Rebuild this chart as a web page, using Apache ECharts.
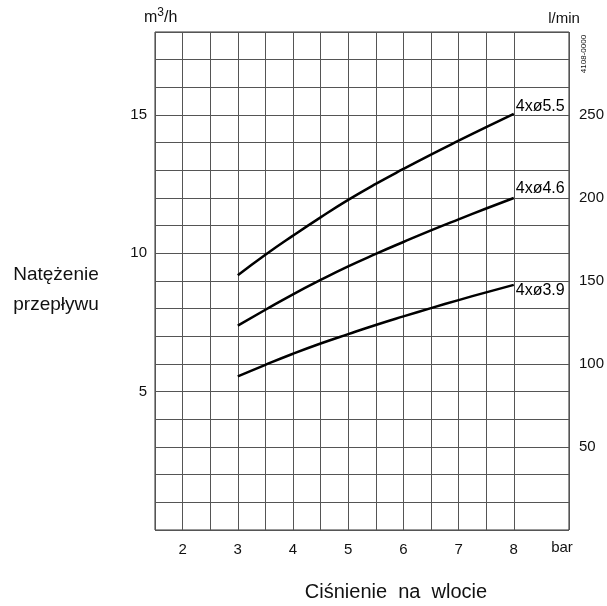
<!DOCTYPE html>
<html>
<head>
<meta charset="utf-8">
<script src="https://cdn.jsdelivr.net/npm/echarts@6/dist/echarts.min.js"></script>
<style>
  html, body { margin: 0; padding: 0; background: #fff; }
  #chart { width: 607px; height: 606px; }
</style>
</head>
<body>
<div id="chart"></div>
<script>
// pressure (bar) and flow (m3/h)
const pressure = [3, 3.5, 4, 4.5, 5, 5.5, 6, 6.5, 7, 7.5, 8];
const flow55 = [9.21, 9.95, 10.64, 11.30, 11.93, 12.51, 13.05, 13.57, 14.07, 14.56, 15.04];
const flow46 = [7.39, 7.96, 8.52, 9.04, 9.53, 9.98, 10.41, 10.83, 11.23, 11.62, 12.0];
const flow39 = [5.55, 5.97, 6.37, 6.74, 7.08, 7.41, 7.72, 8.02, 8.31, 8.59, 8.86];
const seriesNames = ['4xø5.5', '4xø4.6', '4xø3.9'];
const xTicks = [2, 3, 4, 5, 6, 7, 8];
const leftTicks = [5, 10, 15];
const rightTicks = [50, 100, 150, 200, 250];

const font = 'Liberation Sans, Arial, sans-serif';
const gridColor = '#555';

// split line colours, one per 0.5 bar tick; the line at 8.5 bar is absent
const vColors = [];
for (let v = 1.5; v <= 9; v += 0.5) vColors.push(v === 8.5 ? 'rgba(0,0,0,0)' : gridColor);

function pairs(ys) { return pressure.map((p, i) => [p, ys[i]]); }

function curve(name, ys, dy) {
  return {
    name: name,
    type: 'line',
    smooth: true,
    showSymbol: false,
    symbol: 'none',
    data: pairs(ys),
    lineStyle: { color: '#000', width: 2.5 },
    endLabel: {
      show: true,
      formatter: name,
      distance: 2,
      offset: [0, dy],
      color: '#000',
      fontSize: 16,
      fontFamily: font
    },
    z: 5
  };
}

let myChart = echarts.init(document.getElementById('chart'));
myChart.setOption({
  animation: false,
  backgroundColor: '#fff',
  grid: {
    left: 155, right: 35, top: 32, bottom: 76,
    show: true, borderColor: '#333', borderWidth: 1
  },
  xAxis: {
    type: 'value',
    min: 1.5, max: 9, interval: 0.5,
    axisLine: { show: false },
    axisTick: { show: false },
    axisLabel: {
      margin: 12,
      fontSize: 15, fontFamily: font, color: '#111',
      formatter: v => xTicks.includes(v) ? String(v) : ''
    },
    splitLine: { show: true, lineStyle: { color: vColors, width: 1 } }
  },
  yAxis: [
    {
      type: 'value',
      min: 0, max: 18, interval: 1,
      axisLine: { show: false },
      axisTick: { show: false },
      axisLabel: {
        margin: 8,
        fontSize: 15, fontFamily: font, color: '#111',
        formatter: v => leftTicks.includes(v) ? String(v) : ''
      },
      splitLine: { show: true, lineStyle: { color: gridColor, width: 1 } }
    },
    {
      type: 'value',
      min: 0, max: 300, interval: 50,
      position: 'right',
      axisLine: { show: false },
      axisTick: { show: false },
      axisLabel: {
        margin: 10,
        fontSize: 15, fontFamily: font, color: '#111',
        formatter: v => rightTicks.includes(v) ? String(v) : ''
      },
      splitLine: { show: false }
    }
  ],
  series: [
    curve(seriesNames[0], flow55, -7),
    curve(seriesNames[1], flow46, -9),
    curve(seriesNames[2], flow39, 6)
  ],
  graphic: [
    {
      type: 'text', x: 144, y: 28,
      style: {
        text: '{a|m}{b|3}{a|/h}',
        rich: {
          a: { fontSize: 16, fontFamily: font, fill: '#111' },
          b: { fontSize: 12, fontFamily: font, fill: '#111', padding: [0, 0, 9, 0] }
        },
        verticalAlign: 'bottom', textVerticalAlign: 'bottom'
      }
    },
    {
      type: 'text', x: 564, y: 19,
      style: {
        text: 'l/min', font: '15px ' + font, fill: '#111',
        align: 'center', verticalAlign: 'middle',
        textAlign: 'center', textVerticalAlign: 'middle'
      }
    },
    {
      type: 'text', x: 584, y: 54, rotation: Math.PI / 2,
      style: {
        text: '4108-0000', font: '8px ' + font, fill: '#111',
        align: 'center', verticalAlign: 'middle',
        textAlign: 'center', textVerticalAlign: 'middle'
      }
    },
    {
      type: 'text', x: 56, y: 290,
      style: {
        text: 'Natężenie\nprzepływu', font: '19px ' + font, fill: '#111',
        lineHeight: 30,
        align: 'center', verticalAlign: 'middle',
        textAlign: 'center', textVerticalAlign: 'middle'
      }
    },
    {
      type: 'text', x: 562, y: 548,
      style: {
        text: 'bar', font: '15px ' + font, fill: '#111',
        align: 'center', verticalAlign: 'middle',
        textAlign: 'center', textVerticalAlign: 'middle'
      }
    },
    {
      type: 'text', x: 396, y: 592,
      style: {
        text: 'Ciśnienie  na  wlocie', font: '20px ' + font, fill: '#111',
        align: 'center', verticalAlign: 'middle',
        textAlign: 'center', textVerticalAlign: 'middle'
      }
    }
  ]
});
</script>
</body>
</html>
